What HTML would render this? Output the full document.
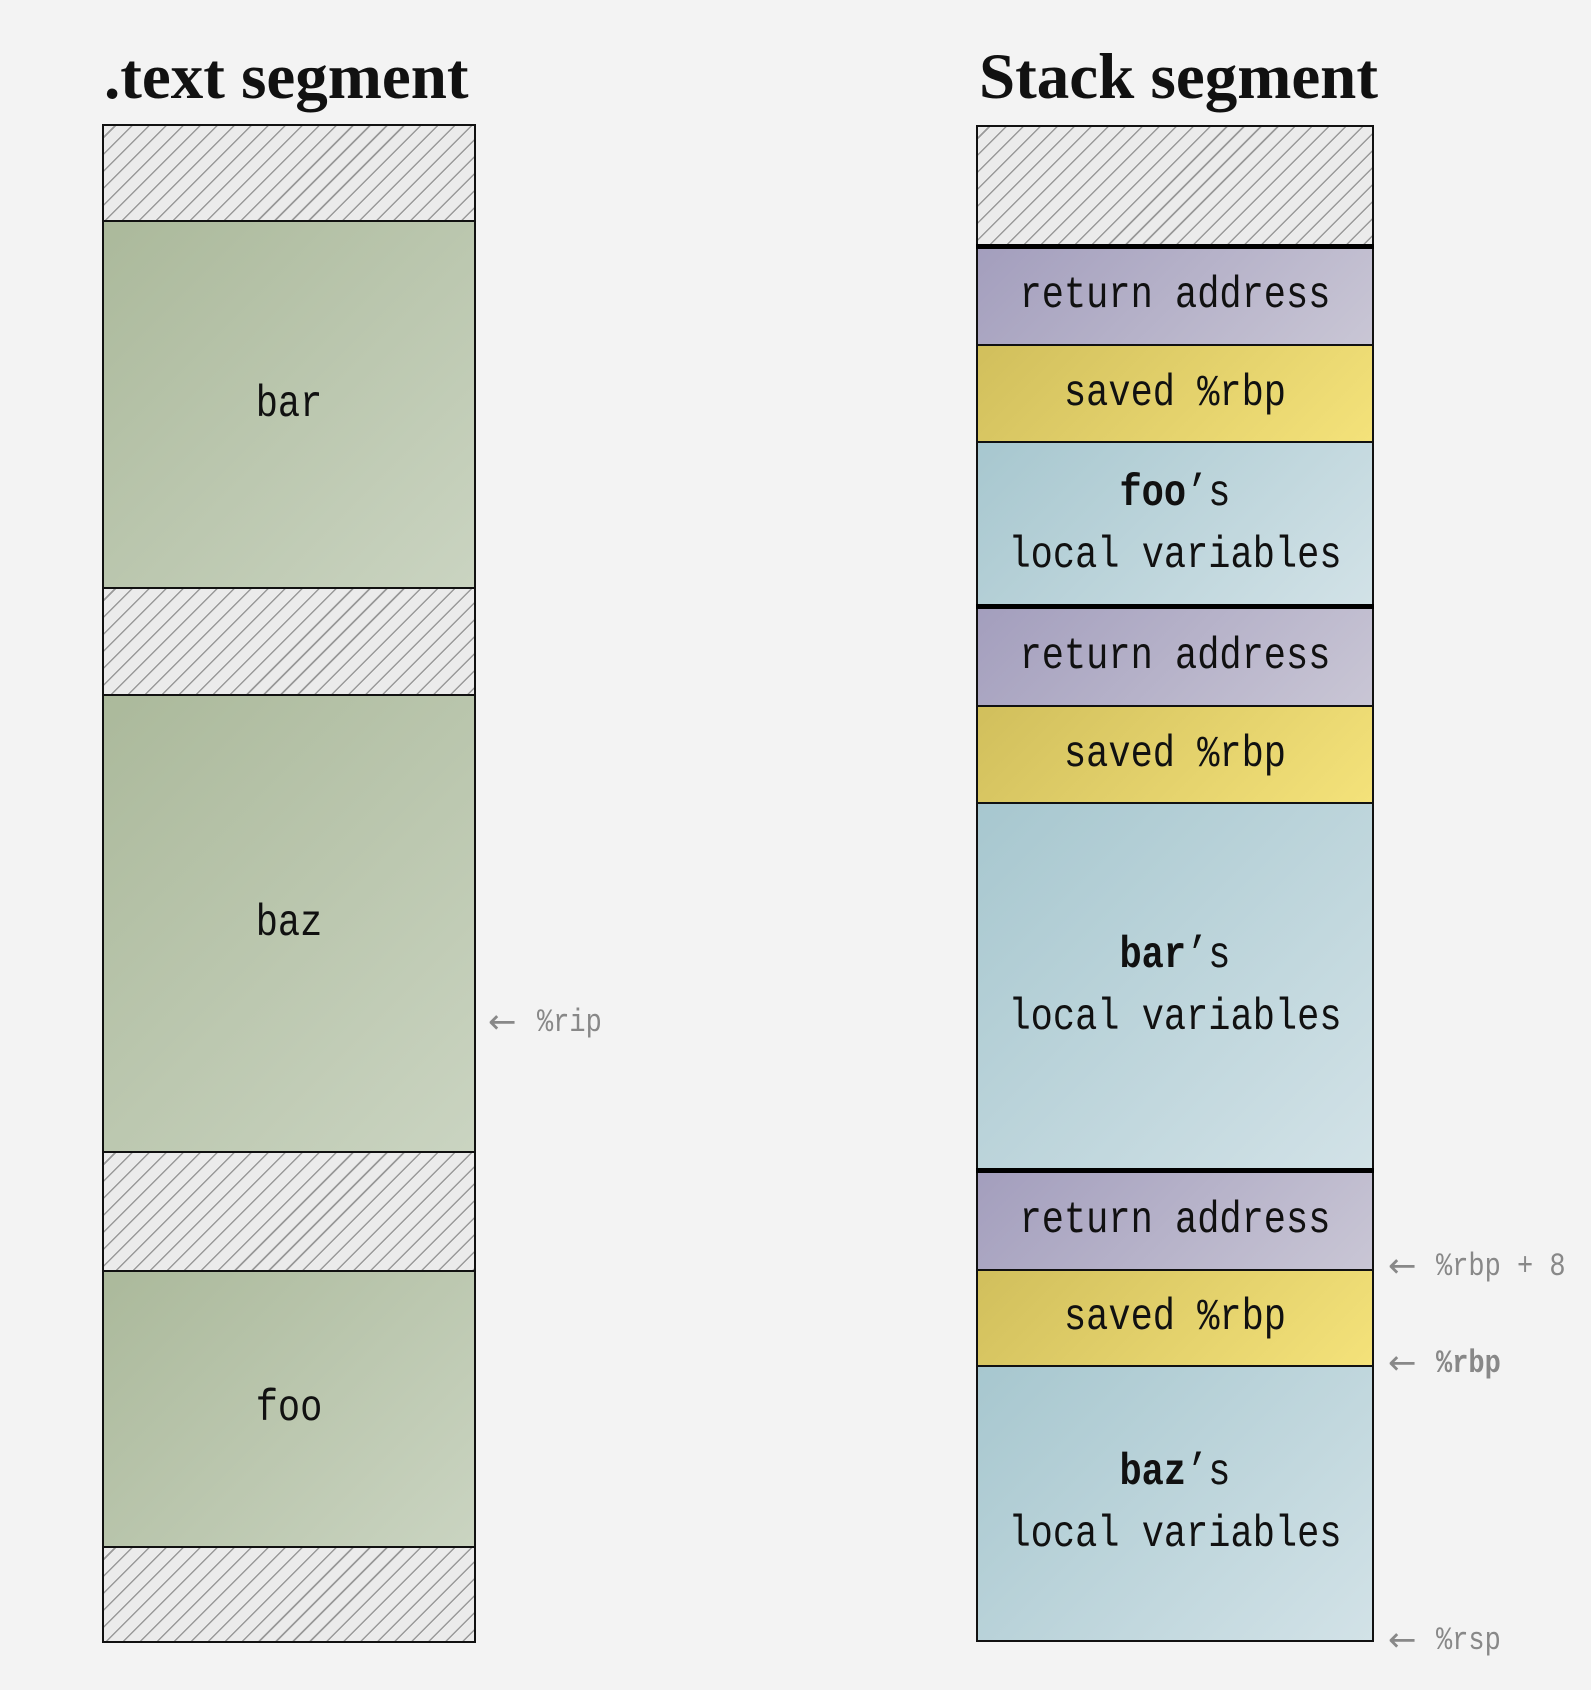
<!DOCTYPE html>
<html><head><meta charset="utf-8"><style>
body{margin:0;width:1591px;height:1690px;background:#f3f3f3;position:relative;overflow:hidden;font-family:"Liberation Mono",monospace}
.t{position:absolute;font-family:"Liberation Serif",serif;font-weight:bold;font-size:65px;color:#111;white-space:nowrap}
.b{position:absolute;box-sizing:border-box;border:2px solid #111;display:flex;flex-direction:column;align-items:center;justify-content:center;font-size:37px;color:#111;line-height:62px;white-space:nowrap}
.b div,.b span{display:block;transform:scaleY(1.2)}
.h{background:repeating-linear-gradient(135deg,#ebebeb 0 7px,#999 7px 8.5px,#ebebeb 8.5px 12px)}
.g{background:linear-gradient(135deg,#abb99b,#cad4c1)}
.p{background:linear-gradient(135deg,#a39ebd,#c9c6d5)}
.y{background:linear-gradient(135deg,#d1bf5c,#f4e27a)}
.c{background:linear-gradient(135deg,#a7c7cf,#d2e2e7)}
.l{position:absolute;color:#888;font-size:27px;white-space:nowrap;transform:translateY(-50%) scaleY(1.2);transform-origin:left center}
.a{position:absolute;color:#888;font-size:34px;font-family:"DejaVu Sans",sans-serif;transform:translateY(-55%)}
.k{position:absolute;left:976px;width:398px;height:5px;background:#000}
</style></head><body>
<div class="t" style="left:104px;top:40px">.text segment</div>
<div class="t" style="left:979px;top:40px">Stack segment</div>

<div class="b h" style="left:102px;top:124px;width:374px;height:98px"></div>
<div class="b g" style="left:102px;top:220px;width:374px;height:369px"><span>bar</span></div>
<div class="b h" style="left:102px;top:587px;width:374px;height:109px"></div>
<div class="b g" style="left:102px;top:694px;width:374px;height:459px"><span>baz</span></div>
<div class="b h" style="left:102px;top:1151px;width:374px;height:121px"></div>
<div class="b g" style="left:102px;top:1270px;width:374px;height:278px"><span>foo</span></div>
<div class="b h" style="left:102px;top:1546px;width:374px;height:97px"></div>
<div class="a" style="left:488px;top:1024px">←</div><div class="l" style="left:537px;top:1024px">%rip</div>

<div class="b h" style="left:976px;top:125px;width:398px;height:123px"></div>
<div class="b p" style="left:976px;top:246px;width:398px;height:100px"><span>return address</span></div>
<div class="b y" style="left:976px;top:344px;width:398px;height:99px"><span>saved %rbp</span></div>
<div class="b c" style="left:976px;top:441px;width:398px;height:167px"><div><b>foo</b>’s</div><div>local variables</div></div>
<div class="b p" style="left:976px;top:606px;width:398px;height:101px"><span>return address</span></div>
<div class="b y" style="left:976px;top:705px;width:398px;height:99px"><span>saved %rbp</span></div>
<div class="b c" style="left:976px;top:802px;width:398px;height:370px"><div><b>bar</b>’s</div><div>local variables</div></div>
<div class="b p" style="left:976px;top:1170px;width:398px;height:101px"><span>return address</span></div>
<div class="b y" style="left:976px;top:1269px;width:398px;height:98px"><span>saved %rbp</span></div>
<div class="b c" style="left:976px;top:1365px;width:398px;height:277px"><div><b>baz</b>’s</div><div>local variables</div></div>
<div class="k" style="top:244px"></div>
<div class="k" style="top:604px"></div>
<div class="k" style="top:1168px"></div>

<div class="a" style="left:1388px;top:1268px">←</div><div class="l" style="left:1436px;top:1268px">%rbp + 8</div>
<div class="a" style="left:1388px;top:1365px">←</div><div class="l" style="left:1436px;top:1365px"><b>%rbp</b></div>
<div class="a" style="left:1388px;top:1642px">←</div><div class="l" style="left:1436px;top:1642px">%rsp</div>
</body></html>
